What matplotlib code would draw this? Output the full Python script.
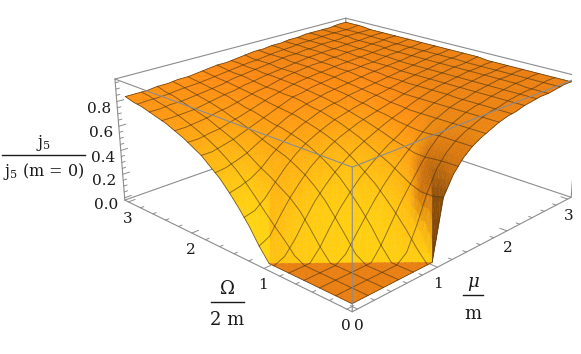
import numpy as np
import matplotlib
matplotlib.use('Agg')
import matplotlib.pyplot as plt
from matplotlib.lines import Line2D
from mpl_toolkits.mplot3d import proj3d
from mpl_toolkits.mplot3d.art3d import Poly3DCollection

plt.rcParams['font.family'] = 'DejaVu Serif'
plt.rcParams['mathtext.fontset'] = 'dejavuserif'

# grid of the surface, in steps of 1/8
omega_vals = np.arange(25) / 8
mu_vals = np.arange(25) / 8

# j5 / j5(m=0) in percent, one row per omega.
# NOTE: these are not pixel readings. They were worked out in a separate run from a
# guessed closed form, n(x) = sign(x)*(x^2-1)^1.5 for |x|>1 else 0, with
# z = (n(mu+omega) - n(mu-omega)) / ((mu+omega)^3 - (mu-omega)^3), then rounded.
# The guess was only checked against the picture: corners, edges and kink lines
heights = [
    [0, 0, 0, 0, 0, 0, 0, 0, 0, 46, 60, 69, 75, 79, 82, 85, 87, 88, 90, 91, 92, 92, 93, 94, 94],
    [0, 0, 0, 0, 0, 0, 0, 0, 18, 44, 60, 69, 75, 79, 82, 85, 87, 88, 90, 91, 92, 92, 93, 94, 94],
    [0, 0, 0, 0, 0, 0, 0, 12, 28, 44, 59, 69, 75, 79, 82, 85, 87, 88, 90, 91, 92, 92, 93, 94, 94],
    [0, 0, 0, 0, 0, 0, 10, 23, 36, 47, 58, 68, 75, 79, 82, 85, 87, 88, 90, 91, 92, 93, 93, 94, 94],
    [0, 0, 0, 0, 0, 10, 22, 33, 43, 52, 60, 67, 74, 79, 82, 85, 87, 88, 90, 91, 92, 93, 93, 94, 94],
    [0, 0, 0, 0, 10, 22, 32, 42, 50, 57, 63, 69, 74, 79, 82, 85, 87, 88, 90, 91, 92, 93, 93, 94, 94],
    [0, 0, 0, 9, 21, 32, 41, 49, 55, 61, 66, 70, 75, 79, 82, 85, 87, 89, 90, 91, 92, 93, 93, 94, 94],
    [0, 0, 8, 20, 32, 41, 49, 55, 61, 65, 69, 73, 76, 79, 82, 85, 87, 89, 90, 91, 92, 93, 93, 94, 94],
    [0, 7, 18, 30, 40, 48, 55, 61, 65, 69, 72, 75, 78, 80, 83, 85, 87, 89, 90, 91, 92, 93, 93, 94, 94],
    [10, 14, 26, 37, 46, 54, 60, 65, 69, 72, 75, 77, 79, 81, 83, 85, 87, 89, 90, 91, 92, 93, 93, 94, 95],
    [22, 24, 32, 42, 51, 58, 64, 68, 72, 75, 77, 79, 81, 83, 84, 86, 87, 89, 90, 91, 92, 93, 94, 94, 95],
    [32, 34, 39, 47, 55, 62, 67, 71, 74, 77, 79, 81, 82, 84, 85, 86, 88, 89, 90, 91, 92, 93, 94, 94, 95],
    [41, 43, 46, 51, 58, 64, 69, 73, 76, 79, 81, 82, 84, 85, 86, 87, 88, 89, 90, 91, 92, 93, 94, 94, 95],
    [49, 50, 53, 56, 61, 66, 71, 75, 78, 80, 82, 84, 85, 86, 87, 88, 89, 90, 91, 91, 92, 93, 94, 94, 95],
    [55, 56, 58, 61, 65, 68, 72, 76, 79, 82, 83, 85, 86, 87, 88, 89, 90, 90, 91, 92, 92, 93, 94, 94, 95],
    [61, 61, 63, 65, 68, 71, 74, 77, 80, 83, 84, 86, 87, 88, 89, 90, 90, 91, 91, 92, 93, 93, 94, 94, 95],
    [65, 65, 67, 68, 71, 73, 76, 78, 81, 83, 85, 87, 88, 89, 89, 90, 91, 91, 92, 92, 93, 93, 94, 94, 95],
    [69, 69, 70, 71, 73, 75, 77, 80, 82, 84, 86, 87, 88, 89, 90, 91, 91, 92, 92, 93, 93, 94, 94, 94, 95],
    [72, 72, 73, 74, 76, 77, 79, 81, 83, 84, 86, 88, 89, 90, 91, 91, 92, 92, 93, 93, 93, 94, 94, 95, 95],
    [75, 75, 75, 76, 78, 79, 81, 82, 84, 85, 87, 88, 89, 90, 91, 92, 92, 93, 93, 93, 94, 94, 94, 95, 95],
    [77, 77, 78, 78, 79, 81, 82, 83, 85, 86, 87, 88, 89, 90, 91, 92, 93, 93, 93, 94, 94, 94, 95, 95, 95],
    [79, 79, 80, 80, 81, 82, 83, 84, 86, 87, 88, 89, 90, 91, 92, 92, 93, 93, 94, 94, 94, 95, 95, 95, 95],
    [81, 81, 81, 82, 83, 83, 84, 85, 86, 87, 88, 89, 90, 91, 92, 92, 93, 94, 94, 94, 95, 95, 95, 95, 96],
    [82, 83, 83, 83, 84, 85, 85, 86, 87, 88, 89, 90, 90, 91, 92, 93, 93, 94, 94, 95, 95, 95, 95, 95, 96],
    [84, 84, 84, 85, 85, 86, 86, 87, 88, 89, 89, 90, 91, 92, 92, 93, 93, 94, 94, 95, 95, 95, 95, 96, 96],
]

omega_ticks = [0, 1, 2, 3]
mu_ticks = [0, 1, 2, 3]
z_ticks = [0.0, 0.2, 0.4, 0.6, 0.8]
z_labels = ['0.0', '0.2', '0.4', '0.6', '0.8']

W, H = 581, 354
XMIN, XMAX = -0.06, 3.06
ZMIN, ZMAX = -0.02, 0.98
ELEV, AZIM, ROLL, FOCAL, ZASPECT = 21.09, -135.75, 0.054, 0.44, 0.4016
SCALE, TX, TY = 2486.6, 348.48, 139.57
BOX = '#8c8c8c'
TXT = '#1a1a1a'

fig = plt.figure(figsize=(W / 100, H / 100), dpi=100)
ax = fig.add_subplot(projection='3d')
ax.computed_zorder = False
ax.set_xlim(XMIN, XMAX)
ax.set_ylim(XMIN, XMAX)
ax.set_zlim(ZMIN, ZMAX)
ax.set_box_aspect((1, 1, ZASPECT))
ax.view_init(ELEV, AZIM, ROLL)
ax.set_proj_type('persp', focal_length=FOCAL)
ax.set_axis_off()
# place the axes so that projected coordinates land on the fitted pixels
x0, x1 = ax.viewLim.intervalx
y0, y1 = ax.viewLim.intervaly
ax.set_position([(TX + SCALE * x0) / W, (H - TY + SCALE * y0) / H,
                 SCALE * (x1 - x0) / W, SCALE * (y1 - y0) / H])

Z = np.array(heights) / 100
step = mu_vals[1] - mu_vals[0]

# view basis for the shading
el, az = np.radians(ELEV), np.radians(AZIM)
view = np.array([np.cos(el) * np.cos(az), np.cos(el) * np.sin(az), np.sin(el)])
right = np.array([-np.sin(az), np.cos(az), 0])
up = np.cross(view, right)
kz = ZASPECT * (XMAX - XMIN) / (ZMAX - ZMIN)
L1 = np.array([0.5, 0.3, 0.8])
L2 = np.array([0.55, -0.2, 0.8])


def shade(gx, gy):
    nv = np.array([-kz * gx, -kz * gy, 1.0])
    nv /= np.linalg.norm(nv)
    n = np.array([nv @ right, nv @ up, nv @ view])
    d1, d2 = n @ L1, n @ L2
    red = np.clip(0.25 + 1.17 * d1, 0, 1)
    ratio = 0.55 + 0.6 * np.clip((d1 - 0.55) / 0.25, 0, 1)
    green = min(np.clip(0.44 + 0.5 * d2, 0, 1), red * ratio)
    return np.array([red, green, 0.06 * red, 1.0])


# cell gradients, blurred so the rounding of the table does not show on the plateau
dzdx = (Z[:-1, 1:] + Z[1:, 1:] - Z[:-1, :-1] - Z[1:, :-1]) / 2 / step
dzdy = (Z[1:, :-1] + Z[1:, 1:] - Z[:-1, :-1] - Z[:-1, 1:]) / 2 / step


def blur(a, r=2):
    p = np.pad(a, r, mode='edge')
    out = np.zeros_like(a)
    for di in range(-r, r + 1):
        for dj in range(-r, r + 1):
            out += p[r + di:r + di + a.shape[0], r + dj:r + dj + a.shape[1]]
    return out / (2 * r + 1) ** 2


sx, sy = blur(dzdx), blur(dzdy)

# triangles, split so their edges follow the kink lines
tris = []
for i in range(24):
    for j in range(24):
        if i + j + 1 == 8:
            tris.append((i, j, (i, j), (i + 1, j), (i, j + 1)))
            tris.append((i, j, (i + 1, j + 1), (i + 1, j), (i, j + 1)))
        else:
            tris.append((i, j, (i, j), (i + 1, j), (i + 1, j + 1)))
            tris.append((i, j, (i, j), (i, j + 1), (i + 1, j + 1)))


def region(tri):
    om = sum(omega_vals[p] for p, q in tri[2:]) / 3
    mu = sum(mu_vals[q] for p, q in tri[2:]) / 3
    if om + mu < 1:
        return 0
    if om - mu > 1:
        return 1
    if mu - om > 1:
        return 2
    return 3


# vertex gradients per region, averaged over the triangles that touch the vertex
acc = {}
for tri in tris:
    i, j = tri[0], tri[1]
    reg = region(tri)
    arr = np.array([(mu_vals[q], omega_vals[p], Z[p, q]) for p, q in tri[2:]])
    if reg == 0:
        gx, gy = 0.0, 0.0
    else:
        cr = np.cross(arr[1] - arr[0], arr[2] - arr[0])
        gx, gy = -cr[0] / cr[2], -cr[1] / cr[2]
        w = np.clip((np.hypot(gx, gy) - 0.4) / 0.6, 0, 1)
        gx = w * gx + (1 - w) * sx[i, j]
        gy = w * gy + (1 - w) * sy[i, j]
    for v in tri[2:]:
        s = acc.setdefault((v, reg), [0.0, 0.0, 0])
        s[0] += gx; s[1] += gy; s[2] += 1

# smooth shading: each triangle cut into 9 with blended vertex colours
verts, cols = [], []
N = 3
for tri in tris:
    reg = region(tri)
    pts = np.array([(mu_vals[q], omega_vals[p], Z[p, q]) for p, q in tri[2:]])
    vc = []
    for v in tri[2:]:
        s = acc[(v, reg)]
        vc.append(shade(s[0] / s[2], s[1] / s[2]))
    vc = np.array(vc)
    for a in range(N):
        for b in range(N - a):
            c = N - a - b
            # upright piece
            bary = np.array([[a, b, c], [a + 1, b, c - 1], [a, b + 1, c - 1]]) / N
            verts.append(bary @ pts)
            cols.append(bary.mean(axis=0) @ vc)
            if c >= 2:
                bary = np.array([[a + 1, b, c - 1], [a, b + 1, c - 1], [a + 1, b + 1, c - 2]]) / N
                verts.append(bary @ pts)
                cols.append(bary.mean(axis=0) @ vc)


def seg(p, q, zorder, color=BOX, lw=0.8):
    ax.plot([p[0], q[0]], [p[1], q[1]], [p[2], q[2]], color=color, lw=lw, zorder=zorder,
            solid_capstyle='round')


# back of the box, behind the surface
seg((XMIN, XMAX, ZMIN), (XMAX, XMAX, ZMIN), 0)
seg((XMAX, XMIN, ZMIN), (XMAX, XMAX, ZMIN), 0)
seg((XMAX, XMAX, ZMIN), (XMAX, XMAX, ZMAX), 0)

surf = Poly3DCollection(verts, facecolors=cols, edgecolors=cols, linewidths=0.3, zorder=1)
ax.add_collection3d(surf, autolim=False)

# mesh lines every 3/16
mesh_color = (0.22, 0.17, 0.08, 0.55)
for m in range(1, 16):
    pos = m * 1.5
    lo, hi = int(np.floor(pos)), int(np.ceil(pos))
    ax.plot(mu_vals, np.full(25, m * 3 / 16), (Z[lo] + Z[hi]) / 2, color=mesh_color, lw=0.7, zorder=2)
    ax.plot(np.full(25, m * 3 / 16), omega_vals, (Z[:, lo] + Z[:, hi]) / 2, color=mesh_color, lw=0.7, zorder=2)
# rim of the surface
rim = (0.25, 0.17, 0.05, 0.7)
ax.plot(mu_vals, omega_vals[0] * np.ones(25), Z[0], color=rim, lw=0.6, zorder=2)
ax.plot(mu_vals, omega_vals[-1] * np.ones(25), Z[-1], color=rim, lw=0.6, zorder=2)
ax.plot(mu_vals[0] * np.ones(25), omega_vals, Z[:, 0], color=rim, lw=0.6, zorder=2)
ax.plot(mu_vals[-1] * np.ones(25), omega_vals, Z[:, -1], color=rim, lw=0.6, zorder=2)

# rest of the box, over the surface
seg((XMIN, XMIN, ZMIN), (XMAX, XMIN, ZMIN), 3)
seg((XMIN, XMIN, ZMIN), (XMIN, XMAX, ZMIN), 3)
seg((XMIN, XMIN, ZMIN), (XMIN, XMIN, ZMAX), 3)
seg((XMIN, XMAX, ZMIN), (XMIN, XMAX, ZMAX), 3)
seg((XMAX, XMIN, ZMIN), (XMAX, XMIN, ZMAX), 3)
seg((XMIN, XMIN, ZMAX), (XMAX, XMIN, ZMAX), 3)
seg((XMIN, XMIN, ZMAX), (XMIN, XMAX, ZMAX), 3)
seg((XMIN, XMAX, ZMAX), (XMAX, XMAX, ZMAX), 3)
seg((XMAX, XMIN, ZMAX), (XMAX, XMAX, ZMAX), 3)

# ticks
for t in np.arange(0, 3.01, 0.2):
    major = abs(t - round(t)) < 1e-6
    size = 0.08 if major else 0.04
    seg((XMIN, t, ZMIN), (XMIN + size, t, ZMIN), 3, lw=0.7)
    seg((t, XMIN, ZMIN), (t, XMIN + size, ZMIN), 3, lw=0.7)
for t in np.arange(0, 0.96, 0.05):
    major = abs(t / 0.2 - round(t / 0.2)) < 1e-6
    size = 0.08 if major else 0.04
    seg((XMIN, XMAX, t), (XMIN + size, XMAX, t), 3, lw=0.7)


def to_fig(x, y, z, dx=0, dy=0):
    u, v, _ = proj3d.proj_transform(x, y, z, ax.get_proj())
    return (SCALE * u + TX + dx) / W, 1 - (TY - SCALE * v + dy) / H


for t in omega_ticks:
    fx, fy = to_fig(XMIN, t, ZMIN, -1, 17)
    fig.text(fx, fy, str(t), ha='center', va='center', fontsize=11, color=TXT)
for t in mu_ticks:
    fx, fy = to_fig(t, XMIN, ZMIN, 1, 17)
    fig.text(fx, fy, str(t), ha='center', va='center', fontsize=11, color=TXT)
for t, lab in zip(z_ticks, z_labels):
    fx, fy = to_fig(XMIN, XMAX, t, -6, 7)
    fig.text(fx, fy, lab, ha='right', va='center', fontsize=11, color=TXT)


def fraction(xc, top, bar, bottom, half, upper, lower, size=13):
    fig.text(xc / W, 1 - top / H, upper, ha='center', va='center', fontsize=size, color=TXT)
    fig.text(xc / W, 1 - bottom / H, lower, ha='center', va='center', fontsize=size, color=TXT)
    fig.add_artist(Line2D([(xc - half) / W, (xc + half) / W], [1 - bar / H, 1 - bar / H],
                          color=TXT, lw=1.0))


fraction(43.5, 143, 155, 172, 41.5, r'$\mathrm{j}_{5}$', r'$\mathrm{j}_{5}$ (m = 0)', size=11.5)
fraction(227, 289, 302, 320, 16.5, r'$\Omega$', '2 m')
fraction(473, 284, 295, 314, 10, r'$\mu$', 'm')

fig.savefig('out.png', dpi=100)
